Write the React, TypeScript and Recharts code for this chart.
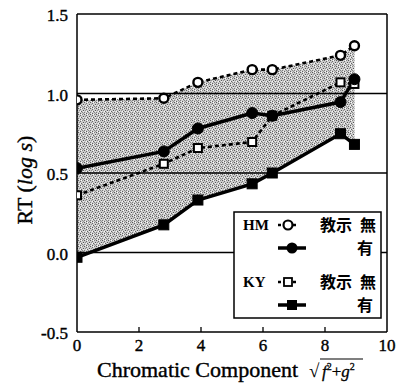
import React from 'react';
import { ComposedChart, Line, Area, XAxis, YAxis, ReferenceLine } from 'recharts';

// Chromatic component values (x)
const xValues = [0, 2.8, 3.9, 5.65, 6.3, 8.5, 8.95];
// RT (log s) per series
const hmNoInstruction = [0.96, 0.97, 1.07, 1.15, 1.15, 1.24, 1.3];
const hmInstruction = [0.53, 0.636, 0.78, 0.877, 0.86, 0.946, 1.09];
const kyNoInstruction = [0.36, 0.558, 0.657, 0.695, 0.86, 1.07, 1.06];
const kyInstruction = [-0.03, 0.174, 0.33, 0.432, 0.5, 0.747, 0.68];

const xTicks = [0, 2, 4, 6, 8, 10];
const yTicks = [-0.5, 0, 0.5, 1.0, 1.5];
const gridValues = [0, 0.5, 1.0];
const innerTickValues = [2, 4, 6, 8];

const data = xValues.map((x, i) => ({
  x,
  hmNo: hmNoInstruction[i],
  hmWith: hmInstruction[i],
  kyNo: kyNoInstruction[i],
  kyWith: kyInstruction[i],
}));

const SERIF = '"Liberation Serif", "DejaVu Serif", serif';
const CJK = '"Noto Sans CJK JP", "Noto Sans CJK SC", sans-serif';

const OpenCircle = (props: any) => {
  const { cx, cy, index } = props;
  if (cx == null || cy == null) return null;
  return <circle key={`oc-${index}`} cx={cx} cy={cy} r={4.5} fill="#fff" stroke="#000" strokeWidth={2.4} />;
};
const FilledCircle = (props: any) => {
  const { cx, cy, index } = props;
  if (cx == null || cy == null) return null;
  return <circle key={`fc-${index}`} cx={cx} cy={cy} r={5.5} fill="#000" stroke="#000" strokeWidth={1} />;
};
const OpenSquare = (props: any) => {
  const { cx, cy, index } = props;
  if (cx == null || cy == null) return null;
  return <rect key={`os-${index}`} x={cx - 4} y={cy - 4} width={8} height={8} fill="#fff" stroke="#000" strokeWidth={2} />;
};
const FilledSquare = (props: any) => {
  const { cx, cy, index } = props;
  if (cx == null || cy == null) return null;
  return <rect key={`fs-${index}`} x={cx - 5} y={cy - 5} width={10} height={10} fill="#000" stroke="#000" strokeWidth={1} />;
};

const XTick = (props: any) => {
  const { x, y, payload } = props;
  const v = payload.value;
  return (
    <g>
      {innerTickValues.includes(v) && <line x1={x} x2={x} y1={y} y2={y - 5} stroke="#000" strokeWidth={1.3} />}
      <text x={x} y={y + 19} textAnchor="middle" fontSize={17} fontFamily={SERIF} fill="#000" stroke="#000" strokeWidth={0.4}>
        {String(v)}
      </text>
    </g>
  );
};

const YTick = (props: any) => {
  const { x, y, payload } = props;
  const v = payload.value;
  return (
    <text x={x - 9} y={y + 7} textAnchor="end" fontSize={17} fontFamily={SERIF} fill="#000" stroke="#000" strokeWidth={0.4}>
      {v.toFixed(1)}
    </text>
  );
};

export default function App() {
  return (
    <div style={{ position: 'absolute', left: 0, top: 0, width: 397, height: 384, background: '#fff' }}>
      <ComposedChart width={397} height={384} data={data} margin={{ top: 14, right: 10, bottom: 20, left: 37 }}>
        <defs>
          <pattern id="stipple" width="6" height="6" patternUnits="userSpaceOnUse">
            <rect width="6" height="6" fill="#cdcdcd" />
            <rect x="0" y="0" width="1" height="1" fill="#5a5a5a" />
            <rect x="4" y="0" width="1" height="1" fill="#858585" />
            <rect x="2" y="1" width="1" height="1" fill="#6a6a6a" />
            <rect x="5" y="2" width="1" height="1" fill="#555555" />
            <rect x="1" y="2" width="1" height="1" fill="#909090" />
            <rect x="3" y="3" width="1" height="1" fill="#626262" />
            <rect x="0" y="4" width="1" height="1" fill="#7c7c7c" />
            <rect x="4" y="4" width="1" height="1" fill="#8a8a8a" />
            <rect x="2" y="5" width="1" height="1" fill="#5e5e5e" />
            <rect x="5" y="5" width="1" height="1" fill="#989898" />
            <rect x="3" y="0" width="1" height="1" fill="#ffffff" />
            <rect x="1" y="5" width="1" height="1" fill="#f4f4f4" />
            <rect x="5" y="3" width="1" height="1" fill="#f0f0f0" />
            <rect x="2" y="3" width="1" height="1" fill="#f8f8f8" />
          </pattern>
        </defs>
        <XAxis
          dataKey="x"
          type="number"
          domain={[0, 10]}
          ticks={xTicks}
          height={32}
          tickLine={false}
          tickSize={0}
          tickMargin={0}
          tick={<XTick />}
          axisLine={{ stroke: '#000', strokeWidth: 1.5 }}
          allowDataOverflow
        />
        <YAxis
          type="number"
          domain={[-0.5, 1.5]}
          ticks={yTicks}
          width={40}
          tickLine={false}
          tickSize={0}
          tickMargin={0}
          tick={<YTick />}
          axisLine={{ stroke: '#000', strokeWidth: 1.5 }}
          allowDataOverflow
        />
        <Area
          type="linear"
          dataKey={(d: any) => [d.kyWith, d.hmNo]}
          fill="url(#stipple)"
          fillOpacity={1}
          stroke="none"
          isAnimationActive={false}
          activeDot={false}
        />
        {gridValues.map((v) => (
          <ReferenceLine key={`g${v}`} y={v} stroke="#000" strokeWidth={1.3} />
        ))}
        <ReferenceLine y={1.5} stroke="#000" strokeWidth={1.5} />
        <ReferenceLine x={10} stroke="#000" strokeWidth={1.5} />
        <Line
          type="linear"
          dataKey="hmNo"
          stroke="#000"
          strokeWidth={2.6}
          strokeDasharray="4 3"
          dot={OpenCircle}
          activeDot={false}
          isAnimationActive={false}
        />
        <Line
          type="linear"
          dataKey="kyNo"
          stroke="#000"
          strokeWidth={2.6}
          strokeDasharray="4 3"
          dot={OpenSquare}
          activeDot={false}
          isAnimationActive={false}
        />
        <Line
          type="linear"
          dataKey="hmWith"
          stroke="#000"
          strokeWidth={3.5}
          dot={FilledCircle}
          activeDot={false}
          isAnimationActive={false}
        />
        <Line
          type="linear"
          dataKey="kyWith"
          stroke="#000"
          strokeWidth={3.5}
          dot={FilledSquare}
          activeDot={false}
          isAnimationActive={false}
        />
      </ComposedChart>
      <svg
        width={397}
        height={384}
        style={{ position: 'absolute', left: 0, top: 0, pointerEvents: 'none' }}
      >
        {/* Y axis title */}
        <text
          transform="rotate(-90)"
          x={-180}
          y={32}
          textAnchor="middle"
          fontSize={22}
          fontFamily={SERIF}
          fill="#000"
          stroke="#000"
          strokeWidth={0.4}
        >
          RT (<tspan fontStyle="italic">log s</tspan>)
        </text>
        {/* X axis title */}
        <text x={97} y={377} fontSize={22} fontFamily={SERIF} fill="#000" stroke="#000" strokeWidth={0.4}>
          Chromatic Component
        </text>
        <text x={309} y={377} fontSize={19} fontFamily={SERIF} fill="#000">
          √
        </text>
        <line x1={320} y1={359} x2={363} y2={359} stroke="#000" strokeWidth={1.2} />
        <text x={322} y={377} fontSize={17} fontFamily={SERIF} fill="#000" stroke="#000" strokeWidth={0.3}>
          <tspan fontStyle="italic">f</tspan>
          <tspan dy={-7} fontSize={10}>2</tspan>
          <tspan dy={7}>+</tspan>
          <tspan fontStyle="italic">g</tspan>
          <tspan dy={-7} fontSize={10}>2</tspan>
        </text>
        {/* Legend */}
        <rect x={234} y={212} width={147} height={106} fill="#fff" stroke="#000" strokeWidth={1.5} />
        <text x={243} y={230} fontSize={15} fontWeight="bold" fontFamily={SERIF} fill="#000">HM</text>
        <text x={243} y={287} fontSize={15} fontWeight="bold" fontFamily={SERIF} fill="#000">KY</text>
        {/* HM no instruction sample */}
        <line x1={278} x2={298} y1={225} y2={225} stroke="#000" strokeWidth={2.5} strokeDasharray="3 2" />
        <circle cx={288} cy={225} r={4.5} fill="#fff" stroke="#000" strokeWidth={2.2} />
        {/* HM instruction sample */}
        <line x1={278} x2={306} y1={248} y2={248} stroke="#000" strokeWidth={3.5} />
        <circle cx={292} cy={248} r={5.5} fill="#000" />
        {/* KY no instruction sample */}
        <line x1={278} x2={298} y1={282} y2={282} stroke="#000" strokeWidth={2.5} strokeDasharray="3 2" />
        <rect x={284} y={278} width={8} height={8} fill="#fff" stroke="#000" strokeWidth={1.8} />
        {/* KY instruction sample */}
        <line x1={278} x2={306} y1={305} y2={305} stroke="#000" strokeWidth={3.5} />
        <rect x={287} y={300} width={10} height={10} fill="#000" />
        <text x={320} y={231} fontSize={16} fontWeight="bold" fontFamily={CJK} fill="#000">教示</text>
        <text x={360} y={231} fontSize={16} fontWeight="bold" fontFamily={CJK} fill="#000">無</text>
        <text x={357} y={254} fontSize={16} fontWeight="bold" fontFamily={CJK} fill="#000">有</text>
        <text x={320} y={288} fontSize={16} fontWeight="bold" fontFamily={CJK} fill="#000">教示</text>
        <text x={360} y={288} fontSize={16} fontWeight="bold" fontFamily={CJK} fill="#000">無</text>
        <text x={357} y={311} fontSize={16} fontWeight="bold" fontFamily={CJK} fill="#000">有</text>
      </svg>
    </div>
  );
}
